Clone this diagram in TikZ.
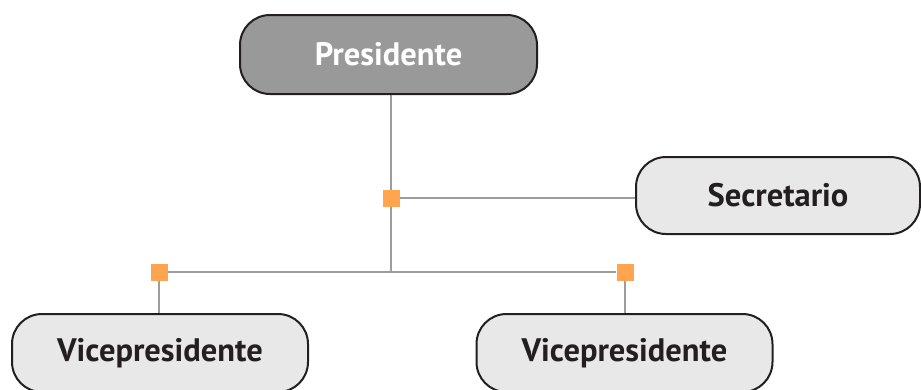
\documentclass[tikz,border=0pt]{standalone}
\usepackage{fontspec}
\setmainfont{PT Sans}
\usetikzlibrary{backgrounds}

\definecolor{boxgray}{HTML}{999999}
\definecolor{boxlight}{HTML}{E8E8E8}
\definecolor{edgeblack}{HTML}{231F20}
\definecolor{linegray}{HTML}{9D9D9D}
\definecolor{joint}{HTML}{FFA54F}

\tikzstyle{post} = [draw=edgeblack,line width=2pt,rounded corners=30pt,fill=boxlight,text=edgeblack,minimum width=296pt,minimum height=78pt,font=\fontsize{32.5}{38}\selectfont\bfseries]
\tikzstyle{knot} = [fill=joint,minimum size=17pt,inner sep=0pt]
\tikzstyle{link} = [draw=linegray,line width=2pt]

\begin{document}
\begin{tikzpicture}[x=1pt,y=-1pt]
	\useasboundingbox (0,0) rectangle (921,389);
	\clip (0,0) rectangle (921,389);
	\node[post,fill=boxgray,text=white,minimum width=297pt,minimum height=79pt] (pres) at (388.5,54.5) {Presidente};
	\node[post,minimum width=284pt,minimum height=77pt] (sec) at (778,195.5) {Secretario};
	\node[post] (vp1) at (160,353) {Vicepresidente};
	\node[post] (vp2) at (624.5,353) {Vicepresidente};
	\node[knot] (k1) at (391,198) {};
	\node[knot] (k2) at (159,272) {};
	\node[knot] (k3) at (625,272) {};
	\coordinate (split) at (391,272);
	\begin{scope}[on background layer]
	\draw[link] (pres.south -| split) -- (split);
	\draw[link] (k1) -- (k1 -| sec.west);
	\draw[link] (k2) -- (k3);
	\draw[link] (k2) -- (k2 |- vp1.north);
	\draw[link] (k3) -- (k3 |- vp2.north);
	\end{scope}
\end{tikzpicture}
\end{document}
